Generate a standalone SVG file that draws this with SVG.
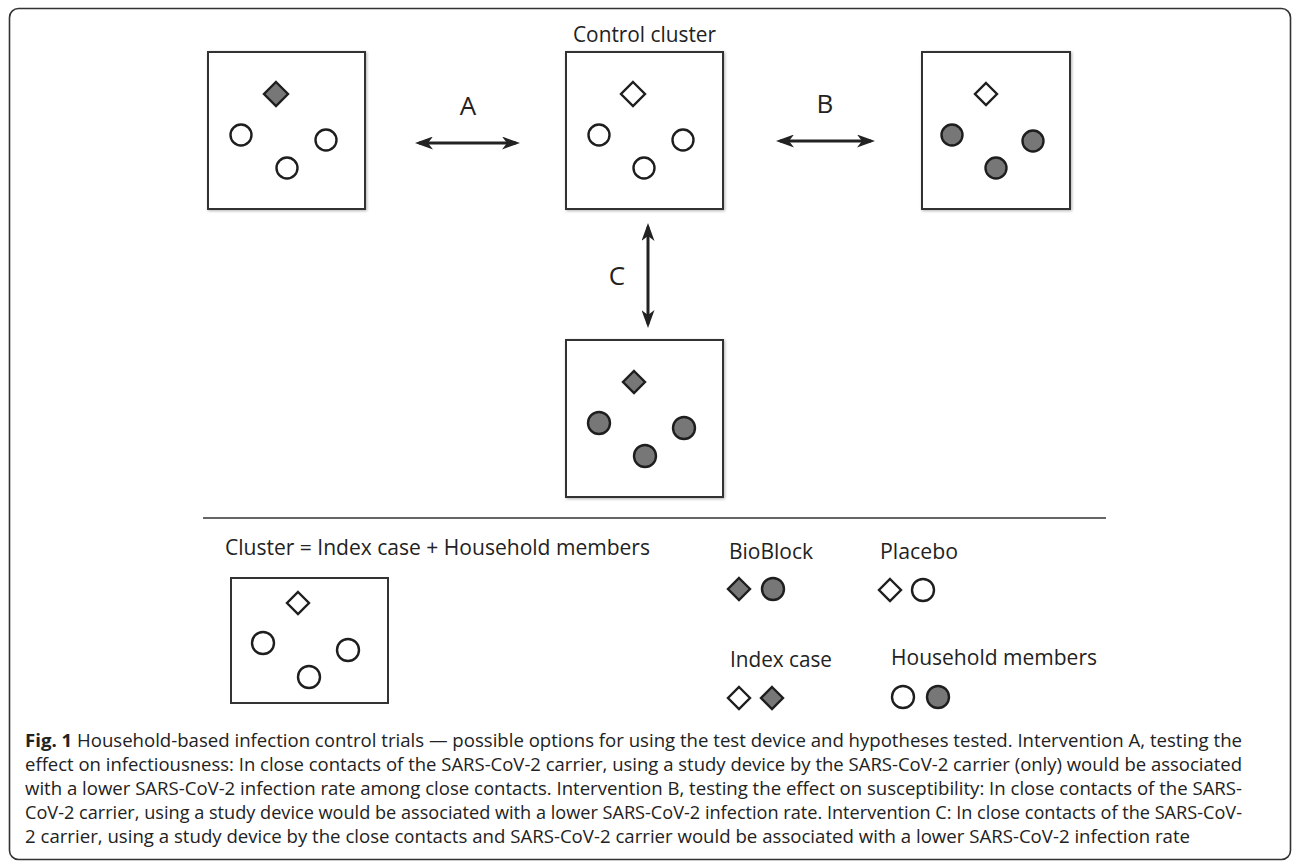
<svg xmlns="http://www.w3.org/2000/svg" width="1292" height="862" viewBox="0 0 1292 862">
<defs>
  <marker id="ah" viewBox="0 0 18 13" markerUnits="userSpaceOnUse" markerWidth="18" markerHeight="13" refX="14" refY="6.5" orient="auto-start-reverse">
    <path d="M0,0 L18,6.5 L0,13 L5,6.5 Z" fill="#222"/>
  </marker>
  <filter id="sh" x="-10%" y="-10%" width="120%" height="120%">
    <feGaussianBlur in="SourceAlpha" stdDeviation="1.5"/>
    <feOffset dx="1" dy="1" result="b"/>
    <feComponentTransfer><feFuncA type="linear" slope="0.3"/></feComponentTransfer>
    <feMerge><feMergeNode/><feMergeNode in="SourceGraphic"/></feMerge>
  </filter>
</defs>
<style>
  .frame{fill:#fff;stroke:#333;stroke-width:1.6}
  .box{fill:#fff;stroke:#333;stroke-width:2}
  .open{fill:#fff;stroke:#1e1e1e;stroke-width:2.4}
  .fill{fill:#777;stroke:#1e1e1e;stroke-width:2.4}
  .lbl{font-family:"Open Sans","Liberation Sans",sans-serif;fill:#222}
  .big{font-size:26px}
  .mid{font-size:21px}
  .cap{font-family:"Open Sans","Liberation Sans",sans-serif;font-size:18px;fill:#222}
  .arr{stroke:#222;stroke-width:3;fill:none}
</style>
<rect class="frame" x="9.5" y="8.5" width="1281" height="851" rx="9"/>

<g id="cluster-a">
  <rect class="box" x="208" y="52" width="157" height="157" filter="url(#sh)"/>
  <path class="fill" d="M276,82 L288,94 L276,106 L264,94 Z"/>
  <circle class="open" cx="241" cy="135" r="10.5"/>
  <circle class="open" cx="326" cy="140" r="10.5"/>
  <circle class="open" cx="287" cy="168" r="10.5"/>
</g>

<g id="control-cluster">
  <text class="lbl mid" x="573" y="42" textLength="143" lengthAdjust="spacingAndGlyphs">Control cluster</text>
  <rect class="box" x="566" y="52" width="157" height="157" filter="url(#sh)"/>
  <path class="open" d="M633,82 L645,94 L633,106 L621,94 Z"/>
  <circle class="open" cx="599" cy="135" r="10.5"/>
  <circle class="open" cx="683" cy="140" r="10.5"/>
  <circle class="open" cx="644" cy="168" r="10.5"/>
</g>

<g id="cluster-b">
  <rect class="box" x="922" y="52" width="148" height="157" filter="url(#sh)"/>
  <path class="open" d="M986,83 L997,94 L986,105 L975,94 Z"/>
  <circle class="fill" cx="952" cy="135" r="10.5"/>
  <circle class="fill" cx="1033" cy="141" r="10.5"/>
  <circle class="fill" cx="996" cy="168" r="10.5"/>
</g>

<g id="cluster-c">
  <rect class="box" x="566" y="340" width="157" height="157" filter="url(#sh)"/>
  <path class="fill" d="M634,371 L645,382 L634,393 L623,382 Z"/>
  <circle class="fill" cx="599" cy="423" r="11"/>
  <circle class="fill" cx="684" cy="428" r="11"/>
  <circle class="fill" cx="645" cy="456" r="11"/>
</g>

<g id="connectors">
  <line class="arr" x1="419" y1="143" x2="516" y2="143" marker-start="url(#ah)" marker-end="url(#ah)"/>
  <text class="lbl big" x="468" y="115" text-anchor="middle">A</text>
  <line class="arr" x1="780" y1="141" x2="871" y2="141" marker-start="url(#ah)" marker-end="url(#ah)"/>
  <text class="lbl big" x="825" y="113" text-anchor="middle">B</text>
  <line class="arr" x1="648" y1="227" x2="648" y2="324" marker-start="url(#ah)" marker-end="url(#ah)"/>
  <text class="lbl big" x="617" y="285" text-anchor="middle">C</text>
</g>

<line x1="203" y1="518" x2="1106" y2="518" stroke="#333" stroke-width="1.6"/>

<g id="legend-cluster">
  <text class="lbl mid" x="225" y="555" textLength="425" lengthAdjust="spacingAndGlyphs">Cluster = Index case + Household members</text>
  <rect class="box" x="231" y="578" width="157" height="125"/>
  <path class="open" d="M298,592 L309,603 L298,614 L287,603 Z"/>
  <circle class="open" cx="263" cy="643" r="11"/>
  <circle class="open" cx="348" cy="650" r="11"/>
  <circle class="open" cx="309" cy="677" r="11"/>
</g>

<g id="legend-bioblock">
  <text class="lbl mid" x="729" y="559" textLength="84" lengthAdjust="spacingAndGlyphs">BioBlock</text>
  <path class="fill" d="M739,578 L750,589 L739,600 L728,589 Z"/>
  <circle class="fill" cx="773" cy="589" r="11"/>
</g>

<g id="legend-placebo">
  <text class="lbl mid" x="880" y="559" textLength="78" lengthAdjust="spacingAndGlyphs">Placebo</text>
  <path class="open" d="M890,579 L901,590 L890,601 L879,590 Z"/>
  <circle class="open" cx="923" cy="590" r="11"/>
</g>

<g id="legend-index">
  <text class="lbl mid" x="730" y="667" textLength="102" lengthAdjust="spacingAndGlyphs">Index case</text>
  <path class="open" d="M739,687 L750,698 L739,709 L728,698 Z"/>
  <path class="fill" d="M772,687 L783,698 L772,709 L761,698 Z"/>
</g>

<g id="legend-household">
  <text class="lbl mid" x="891" y="665" textLength="206" lengthAdjust="spacingAndGlyphs">Household members</text>
  <circle class="open" cx="903" cy="697" r="11"/>
  <circle class="fill" cx="938" cy="697" r="11"/>
</g>

<g id="caption">
  <text class="cap" x="25" y="747" textLength="1217" lengthAdjust="spacingAndGlyphs"><tspan font-weight="bold">Fig. 1</tspan> Household-based infection control trials — possible options for using the test device and hypotheses tested. Intervention A, testing the</text>
  <text class="cap" x="25" y="771" textLength="1217" lengthAdjust="spacingAndGlyphs">effect on infectiousness: In close contacts of the SARS-CoV-2 carrier, using a study device by the SARS-CoV-2 carrier (only) would be associated</text>
  <text class="cap" x="25" y="795" textLength="1217" lengthAdjust="spacingAndGlyphs">with a lower SARS-CoV-2 infection rate among close contacts. Intervention B, testing the effect on susceptibility: In close contacts of the SARS-</text>
  <text class="cap" x="25" y="819" textLength="1217" lengthAdjust="spacingAndGlyphs">CoV-2 carrier, using a study device would be associated with a lower SARS-CoV-2 infection rate. Intervention C: In close contacts of the SARS-CoV-</text>
  <text class="cap" x="25" y="843" textLength="1165" lengthAdjust="spacingAndGlyphs">2 carrier, using a study device by the close contacts and SARS-CoV-2 carrier would be associated with a lower SARS-CoV-2 infection rate</text>
</g>
</svg>
